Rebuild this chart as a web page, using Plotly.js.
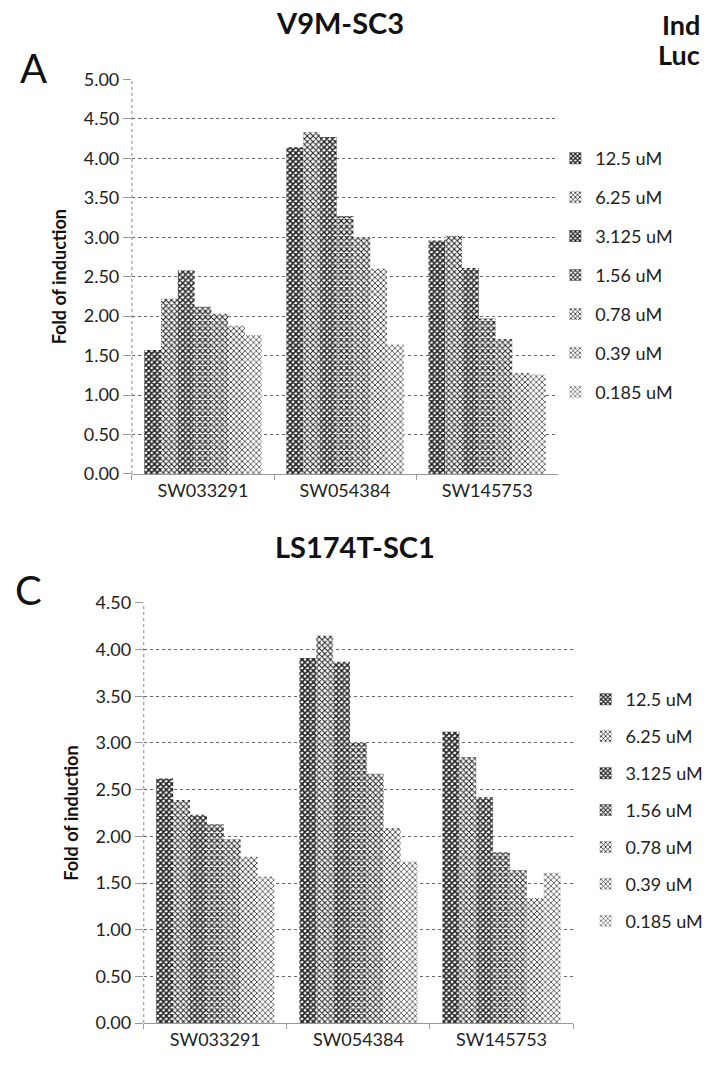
<!DOCTYPE html>
<html>
<head>
<meta charset="utf-8">
<script src="https://cdn.plot.ly/plotly-3.0.1.min.js"></script>
<style>html,body{margin:0;padding:0;background:#fff;}#chart{width:709px;height:1067px;}</style>
</head>
<body>
<div id="chart"></div>
<script>
// ---- data ----
const compounds = ["SW033291", "SW054384", "SW145753"];
const concentrations = ["12.5 uM", "6.25 uM", "3.125 uM", "1.56 uM", "0.78 uM", "0.39 uM", "0.185 uM"];

// Panel A: V9M-SC3 (fold of induction), one array per concentration, order = compounds
const v9m_12_5   = [1.57, 4.14, 2.96];
const v9m_6_25   = [2.22, 4.33, 3.02];
const v9m_3_125  = [2.58, 4.27, 2.61];
const v9m_1_56   = [2.12, 3.27, 1.97];
const v9m_0_78   = [2.03, 3.00, 1.71];
const v9m_0_39   = [1.88, 2.60, 1.28];
const v9m_0_185  = [1.76, 1.64, 1.26];

// Panel C: LS174T-SC1
const ls_12_5   = [2.62, 3.91, 3.12];
const ls_6_25   = [2.39, 4.15, 2.85];
const ls_3_125  = [2.23, 3.87, 2.42];
const ls_1_56   = [2.13, 3.00, 1.83];
const ls_0_78   = [1.97, 2.67, 1.64];
const ls_0_39   = [1.78, 2.09, 1.34];
const ls_0_185  = [1.57, 1.73, 1.61];

const v9mSeries = [v9m_12_5, v9m_6_25, v9m_3_125, v9m_1_56, v9m_0_78, v9m_0_39, v9m_0_185];
const lsSeries  = [ls_12_5, ls_6_25, ls_3_125, ls_1_56, ls_0_78, ls_0_39, ls_0_185];

// ---- styles ----
const FONT = 'Lato, "Liberation Sans", sans-serif';
const solidity = [0.62, 0.42, 0.6, 0.5, 0.42, 0.36, 0.3];

function makeTraces(series, xa, ya, legendId) {
  return series.map((vals, i) => ({
    type: 'bar',
    x: compounds,
    y: vals,
    name: concentrations[i],
    xaxis: xa,
    yaxis: ya,
    legend: legendId,
    legendgroup: legendId + '_' + i,
    marker: {
      color: '#1a1a1a',
      line: {width: 0},
      pattern: {shape: 'x', size: 4, solidity: solidity[i], bgcolor: '#ffffff', fgcolor: '#1a1a1a'}
    },
    hoverinfo: 'x+y+name'
  }));
}

const data = [].concat(
  makeTraces(v9mSeries, 'x', 'y', 'legend'),
  makeTraces(lsSeries, 'x2', 'y2', 'legend2')
);

const tickFont = {family: FONT, size: 18, color: '#222'};
const yTitleFont = {family: FONT, size: 18, color: '#111', weight: 'bold'};
const legendFont = {family: FONT, size: 18, color: '#222'};

function yAxis(domain, range, anchor) {
  return {
    domain: domain, range: range, anchor: anchor, dtick: 0.5, tick0: 0,
    tickformat: '.2f', showgrid: true, gridcolor: '#666', griddash: 'dot', gridwidth: 1,
    zeroline: false, showline: false, ticks: 'outside', ticklen: 8, tickcolor: '#999',
    tickfont: tickFont, fixedrange: true,
    title: {text: 'Fold of induction', font: yTitleFont, standoff: 12}
  };
}
function xAxis(domain, anchor) {
  return {
    domain: domain, anchor: anchor, type: 'category', showgrid: false, zeroline: false,
    showline: true, linecolor: '#999', linewidth: 1, ticks: 'outside', tickson: 'boundaries',
    ticklen: 5, tickcolor: '#999', tickfont: tickFont, fixedrange: true
  };
}

const layout = {
  width: 709, height: 1067,
  margin: {l: 0, r: 0, t: 0, b: 0},
  paper_bgcolor: '#fff', plot_bgcolor: '#fff',
  font: {family: FONT, color: '#222'},
  barmode: 'group', bargap: 0.175, bargroupgap: 0,
  xaxis: xAxis([0.1876, 0.7941], 'y'),
  yaxis: yAxis([0.5558, 0.9255], [0, 5], 'x'),
  xaxis2: xAxis([0.2045, 0.8152], 'y2'),
  yaxis2: yAxis([0.0412, 0.4349], [0, 4.5], 'x2'),
  legend: {x: 0.790, y: 0.8687, xanchor: 'left', yanchor: 'top', font: legendFont,
           tracegroupgap: 12.5, bgcolor: 'rgba(0,0,0,0)', itemclick: false},
  legend2: {x: 0.833, y: 0.3616, xanchor: 'left', yanchor: 'top', font: legendFont,
            tracegroupgap: 10.5, bgcolor: 'rgba(0,0,0,0)', itemclick: false},
  shapes: [
    {type: 'line', xref: 'x domain', yref: 'y domain', x0: 0, x1: 0, y0: 0, y1: 1,
     line: {color: '#888', width: 1, dash: 'dot'}},
    {type: 'line', xref: 'x2 domain', yref: 'y2 domain', x0: 0, x1: 0, y0: 0, y1: 1,
     line: {color: '#888', width: 1, dash: 'dot'}}
  ],
  annotations: [
    {text: 'V9M-SC3', xref: 'paper', yref: 'paper', x: 0.483, y: 0.979, xanchor: 'center', yanchor: 'middle',
     showarrow: false, font: {family: FONT, size: 29, color: '#111', weight: 'bold'}},
    {text: 'LS174T-SC1', xref: 'paper', yref: 'paper', x: 0.505, y: 0.488, xanchor: 'center', yanchor: 'middle',
     showarrow: false, font: {family: FONT, size: 29, color: '#111', weight: 'bold'}},
    {text: 'A', xref: 'paper', yref: 'paper', x: 0.047, y: 0.936, xanchor: 'center', yanchor: 'middle',
     showarrow: false, font: {family: FONT, size: 40, color: '#111'}},
    {text: 'C', xref: 'paper', yref: 'paper', x: 0.041, y: 0.447, xanchor: 'center', yanchor: 'middle',
     showarrow: false, font: {family: FONT, size: 40, color: '#111'}},
    {text: 'Ind', xref: 'paper', yref: 'paper', x: 0.999, y: 0.977, xanchor: 'right', yanchor: 'middle',
     showarrow: false, font: {family: FONT, size: 27, color: '#111', weight: 'bold'}},
    {text: 'Luc', xref: 'paper', yref: 'paper', x: 0.999, y: 0.949, xanchor: 'right', yanchor: 'middle',
     showarrow: false, font: {family: FONT, size: 27, color: '#111', weight: 'bold'}}
  ]
};

Plotly.newPlot('chart', data, layout, {displayModeBar: false, staticPlot: true});
</script>
</body>
</html>
